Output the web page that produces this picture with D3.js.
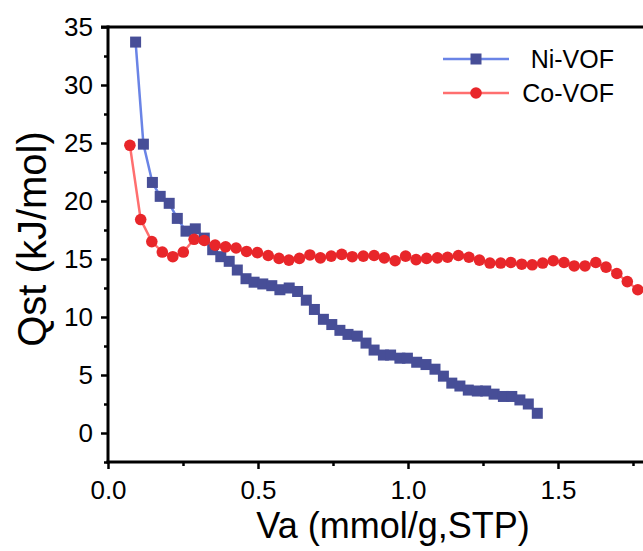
<!DOCTYPE html>
<html>
<head>
<meta charset="utf-8">
<script src="https://cdn.jsdelivr.net/npm/d3@7"></script>
<style>
  body { margin: 0; background: #fff; }
  svg { display: block; font-family: "Liberation Sans", Arial, sans-serif; }
</style>
</head>
<body>
<div id="chart"></div>
<script>
// Ni-VOF data (Va, Qst)
const niVa = [0.092, 0.118, 0.148, 0.174, 0.204, 0.231, 0.26, 0.291, 0.321, 0.349, 0.376, 0.404,
  0.431, 0.46, 0.487, 0.516, 0.546, 0.573, 0.604, 0.632, 0.661, 0.688, 0.718, 0.746, 0.773, 0.8,
  0.831, 0.86, 0.887, 0.918, 0.942, 0.973, 0.998, 1.029, 1.06, 1.09, 1.118, 1.146, 1.173, 1.201,
  1.231, 1.259, 1.287, 1.318, 1.346, 1.373, 1.401, 1.431];
const niQst = [33.7, 24.9, 21.6, 20.4, 19.8, 18.5, 17.4, 17.6, 16.8, 15.8, 15.2, 14.8,
  14.05, 13.3, 13.0, 12.85, 12.7, 12.35, 12.5, 12.2, 11.45, 10.65, 9.8, 9.35, 8.85, 8.5,
  8.35, 7.75, 7.15, 6.72, 6.72, 6.45, 6.45, 6.1, 5.9, 5.5, 4.9, 4.3, 4.05, 3.7,
  3.62, 3.62, 3.35, 3.15, 3.15, 2.85, 2.5, 1.7];

// Co-VOF data (Va, Qst)
const coVa = [0.073, 0.109, 0.146, 0.181, 0.216, 0.251, 0.287, 0.321, 0.357, 0.392, 0.427, 0.462,
  0.498, 0.534, 0.57, 0.603, 0.638, 0.673, 0.708, 0.744, 0.779, 0.814, 0.851, 0.887, 0.921,
  0.957, 0.992, 1.027, 1.062, 1.098, 1.132, 1.168, 1.203, 1.238, 1.273, 1.309, 1.343, 1.379,
  1.414, 1.449, 1.484, 1.52, 1.554, 1.59, 1.626, 1.66, 1.696, 1.731, 1.766];
const coQst = [24.8, 18.4, 16.5, 15.6, 15.2, 15.6, 16.7, 16.6, 16.2, 16.05, 15.95, 15.65,
  15.55, 15.3, 15.05, 14.9, 15.05, 15.35, 15.1, 15.25, 15.4, 15.2, 15.25, 15.3, 15.1,
  14.85, 15.25, 14.95, 15.05, 15.1, 15.15, 15.3, 15.15, 14.9, 14.65, 14.65, 14.7, 14.55,
  14.5, 14.65, 14.85, 14.7, 14.4, 14.4, 14.7, 14.3, 13.75, 13.05, 12.35];

const seriesNames = ["Ni-VOF", "Co-VOF"];
const xTicks = [0, 0.5, 1.0, 1.5];
const yTicks = [0, 5, 10, 15, 20, 25, 30, 35];

const width = 643, height = 551;
const mLeft = 108, mTop = 27, mRight = 645, mBottom = 462;

const svg = d3.select("#chart").append("svg")
  .attr("width", width)
  .attr("height", height);

const x = d3.scaleLinear().domain([0, 1.79]).range([mLeft, mRight]);
const y = d3.scaleLinear().domain([-2.5, 35]).range([mBottom, mTop]);

const niData = niVa.map((v, i) => ({x: v, y: niQst[i]}));
const coData = coVa.map((v, i) => ({x: v, y: coQst[i]}));

const line = d3.line().x(d => x(d.x)).y(d => y(d.y));

// lines
svg.append("path").datum(niData)
  .attr("d", line).attr("fill", "none")
  .attr("stroke", "#6a84e6").attr("stroke-width", 2.5);
svg.append("path").datum(coData)
  .attr("d", line).attr("fill", "none")
  .attr("stroke", "#ff6f6f").attr("stroke-width", 2.5);

// markers
svg.selectAll("rect.ni").data(niData).enter()
  .append("rect").attr("class", "ni")
  .attr("x", d => x(d.x) - 5.5)
  .attr("y", d => y(d.y) - 5.5)
  .attr("width", 11).attr("height", 11)
  .attr("fill", "#474e97");
svg.selectAll("circle.co").data(coData).enter()
  .append("circle").attr("class", "co")
  .attr("cx", d => x(d.x))
  .attr("cy", d => y(d.y))
  .attr("r", 5.8)
  .attr("fill", "#e8262a");

// axes
const xAxis = d3.axisBottom(x).tickValues(xTicks).tickSize(7).tickFormat(d3.format(".1f"));
const xMinor = d3.axisBottom(x).tickValues([0.25, 0.75, 1.25, 1.75]).tickSize(4).tickFormat("");
const yAxis = d3.axisLeft(y).tickValues(yTicks).tickSize(7);
const yMinor = d3.axisLeft(y).tickValues([-2.5, 2.5, 7.5, 12.5, 17.5, 22.5, 27.5, 32.5]).tickSize(4).tickFormat("");

function styleAxis(g) {
  g.select(".domain").remove();
  g.selectAll(".tick line").attr("stroke", "#000").attr("stroke-width", 2.5);
  g.selectAll(".tick text").attr("fill", "#000").attr("font-size", 26)
    .attr("font-family", "Liberation Sans, Arial, sans-serif");
}

svg.append("g").attr("transform", `translate(0,${mBottom})`).call(xAxis).call(styleAxis)
  .selectAll(".tick text").attr("dy", "1.02em");
svg.append("g").attr("transform", `translate(0,${mBottom})`).call(xMinor).call(styleAxis);
svg.append("g").attr("transform", `translate(${mLeft},0)`).call(yAxis).call(styleAxis)
  .selectAll(".tick text").attr("x", -15);
svg.append("g").attr("transform", `translate(${mLeft},0)`).call(yMinor).call(styleAxis);

// frame lines
svg.append("line").attr("x1", mLeft).attr("x2", mLeft).attr("y1", mTop - 1.5).attr("y2", mBottom + 1.5)
  .attr("stroke", "#000").attr("stroke-width", 3);
svg.append("line").attr("x1", mLeft - 1.5).attr("x2", mRight).attr("y1", mBottom).attr("y2", mBottom)
  .attr("stroke", "#000").attr("stroke-width", 3);
svg.append("line").attr("x1", mLeft - 7).attr("x2", mRight).attr("y1", mTop).attr("y2", mTop)
  .attr("stroke", "#000").attr("stroke-width", 3);

// axis titles
svg.append("text")
  .attr("x", 393).attr("y", 538)
  .attr("text-anchor", "middle")
  .attr("font-size", 36)
  .text("Va (mmol/g,STP)");
svg.append("text")
  .attr("transform", "translate(46,239) rotate(-90)")
  .attr("text-anchor", "middle")
  .attr("font-size", 40)
  .text("Qst (kJ/mol)");

// legend
const legend = svg.append("g");
const legColors = [["#6a84e6", "#474e97"], ["#ff6f6f", "#e8262a"]];
seriesNames.forEach((name, i) => {
  const ly = 59 + i * 34;
  legend.append("line").attr("x1", 443).attr("x2", 509).attr("y1", ly).attr("y2", ly)
    .attr("stroke", legColors[i][0]).attr("stroke-width", 2.5);
  if (i === 0) {
    legend.append("rect").attr("x", 476 - 5.5).attr("y", ly - 5.5)
      .attr("width", 11).attr("height", 11).attr("fill", legColors[i][1]);
  } else {
    legend.append("circle").attr("cx", 476).attr("cy", ly).attr("r", 5.8)
      .attr("fill", legColors[i][1]);
  }
  legend.append("text").attr("x", 614).attr("y", ly).attr("dy", "0.36em")
    .attr("text-anchor", "end").attr("font-size", 25).text(name);
});
</script>
</body>
</html>
